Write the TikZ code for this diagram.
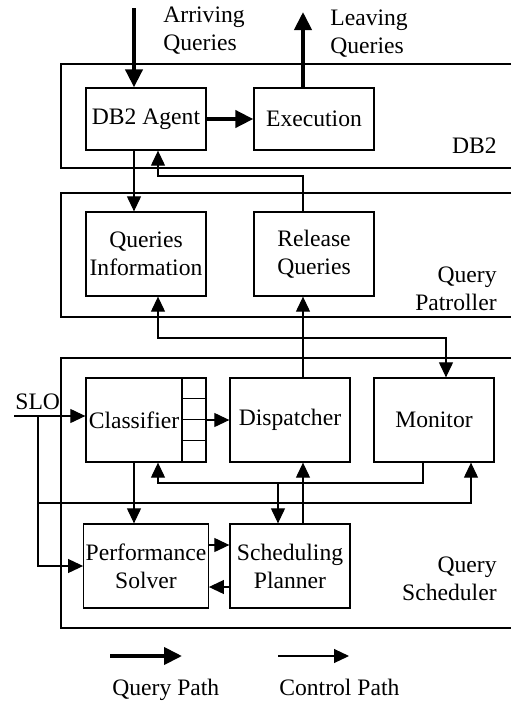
\documentclass[tikz,border=0pt]{standalone}
\usepackage{fontspec}
\setmainfont{Liberation Serif}
\usetikzlibrary{arrows.meta}
\tikzset{
  blocco/.style={draw,line width=0.65pt,minimum width=60pt,minimum height=42pt,
                 inner sep=1pt,align=center},
  zona/.style={line width=0.6pt},
  ctrl/.style={-{Triangle[width=7pt,length=7.5pt]},line width=0.55pt},
  ctrlbi/.style={{Triangle[width=7pt,length=7.5pt]}-{Triangle[width=7pt,length=7.5pt]},
                 line width=0.55pt},
  query/.style={-{Triangle[width=8.5pt,length=9pt]},line width=2pt},
  etich/.style={inner sep=0pt}
}
\begin{document}
\begin{tikzpicture}[x=0.5pt,y=-0.5pt,font=\fontsize{11.8pt}{14pt}\selectfont]
\useasboundingbox (0,0) rectangle (511,703);
\pgfmathsetmacro{\xdx}{511} % bordo destro delle zone

% zone
\draw[zona] (\xdx,64) -| (61,168) -- (\xdx,168); % DB2
\draw[zona] (\xdx,193) -| (61,317) -- (\xdx,317); % Query Patroller
\draw[zona] (\xdx,358) -| (61,628) -- (\xdx,628); % Query Scheduler
\node[etich,anchor=base east] (ldb) at (497,153) {DB2};
\node[etich,anchor=north east,align=right] (lqp) at (497,266) {Query\\Patroller};
\node[etich,anchor=north east,align=right] (lqs) at (497,556) {Query\\Scheduler};

% blocchi
\node[blocco,minimum height=31pt] (agent) at (146,119) {DB2 Agent};
\node[blocco,minimum height=31pt] (exec) at (314,119) {Execution};
\node[blocco] (qinfo) at (146,254) {Queries\\Information};
\node[blocco] (release) at (314,254) {Release\\Queries};
\node[blocco,minimum width=48pt] (classifier) at (134,420) {Classifier};
\node[draw,line width=0.65pt,minimum width=12pt,minimum height=42pt,
      inner sep=0pt] (queue) at (194,420) {}; % coda
\foreach \k in {1,2,3}
  \draw[line width=0.65pt] (queue.north west) ++(0,\k*21) -- ++(24,0);
\node[blocco] (dispatcher) at (290,420) {Dispatcher};
\node[blocco] (monitor) at (434,420) {Monitor};
\node[blocco] (solver) at (146,566) {Performance\\Solver};
\node[blocco] (planner) at (290,566) {Scheduling\\Planner};

% percorso delle query
\coordinate (arr) at (134,8);
\coordinate (leave) at (303,12);
\draw[query] (arr) -- (arr |- agent.north);
\draw[query] (leave |- exec.north) -- (leave);
\draw[query] (agent.east) -- (exec.west);
\node[etich,anchor=north west,align=left] (larr) at (163,6) {Arriving\\Queries};
\node[etich,anchor=north west,align=left] (lleave) at (330,9) {Leaving\\Queries};

% percorso di controllo
\draw[ctrl] (agent.south -| arr) -- (qinfo.north -| arr);
\coordinate (rq) at (158,176);
\draw[ctrl] (release.north -| leave) |- (rq) -- (rq |- agent.south);
\coordinate (qm) at (158,338);
\draw[ctrlbi] (qm |- qinfo.south) -- (qm) -| ([xshift=6pt]monitor.north);
\draw[ctrl] (dispatcher.north -| leave) -- (release.south -| leave);

\node[etich,anchor=base west] (slo) at (15,409) {SLO};
\coordinate (sloin) at (14,416);
\coordinate (sb) at (38,416);
\draw[ctrl] (sloin) -- (sloin -| classifier.west);
\draw[ctrl] (sb) |- (solver.west);
\coordinate (mb) at (471,503);
\draw[ctrl] (sb) |- (mb) -- (mb |- monitor.south);

\draw[ctrl] (queue.east) -- (dispatcher.west);
\coordinate (fb) at (158,483);
\coordinate (pb) at (278,483);
\draw[ctrl] ([xshift=-5.5pt]monitor.south) |- (fb) -- (fb |- classifier.south);
\draw[ctrl] (pb) -- (pb |- planner.north);
\draw[ctrl] (classifier.south) -- (classifier.south |- solver.north);
\draw[ctrl] (planner.north -| leave) -- (dispatcher.south -| leave);
\draw[ctrl] ([yshift=10.5pt]solver.east) -- ([yshift=10.5pt]planner.west);
\draw[ctrl] ([yshift=-10.5pt]planner.west) -- ([yshift=-10.5pt]solver.east);

% legenda
\coordinate (lq1) at (110,656);
\coordinate (lq2) at (182,656);
\coordinate (lc1) at (278,656);
\coordinate (lc2) at (349,656);
\draw[query] (lq1) -- (lq2);
\draw[ctrl] (lc1) -- (lc2);
\node[etich,anchor=base west] (lqpath) at (112,695) {Query Path};
\node[etich,anchor=base west] (lcpath) at (279,695) {Control Path};
\end{tikzpicture}
\end{document}
